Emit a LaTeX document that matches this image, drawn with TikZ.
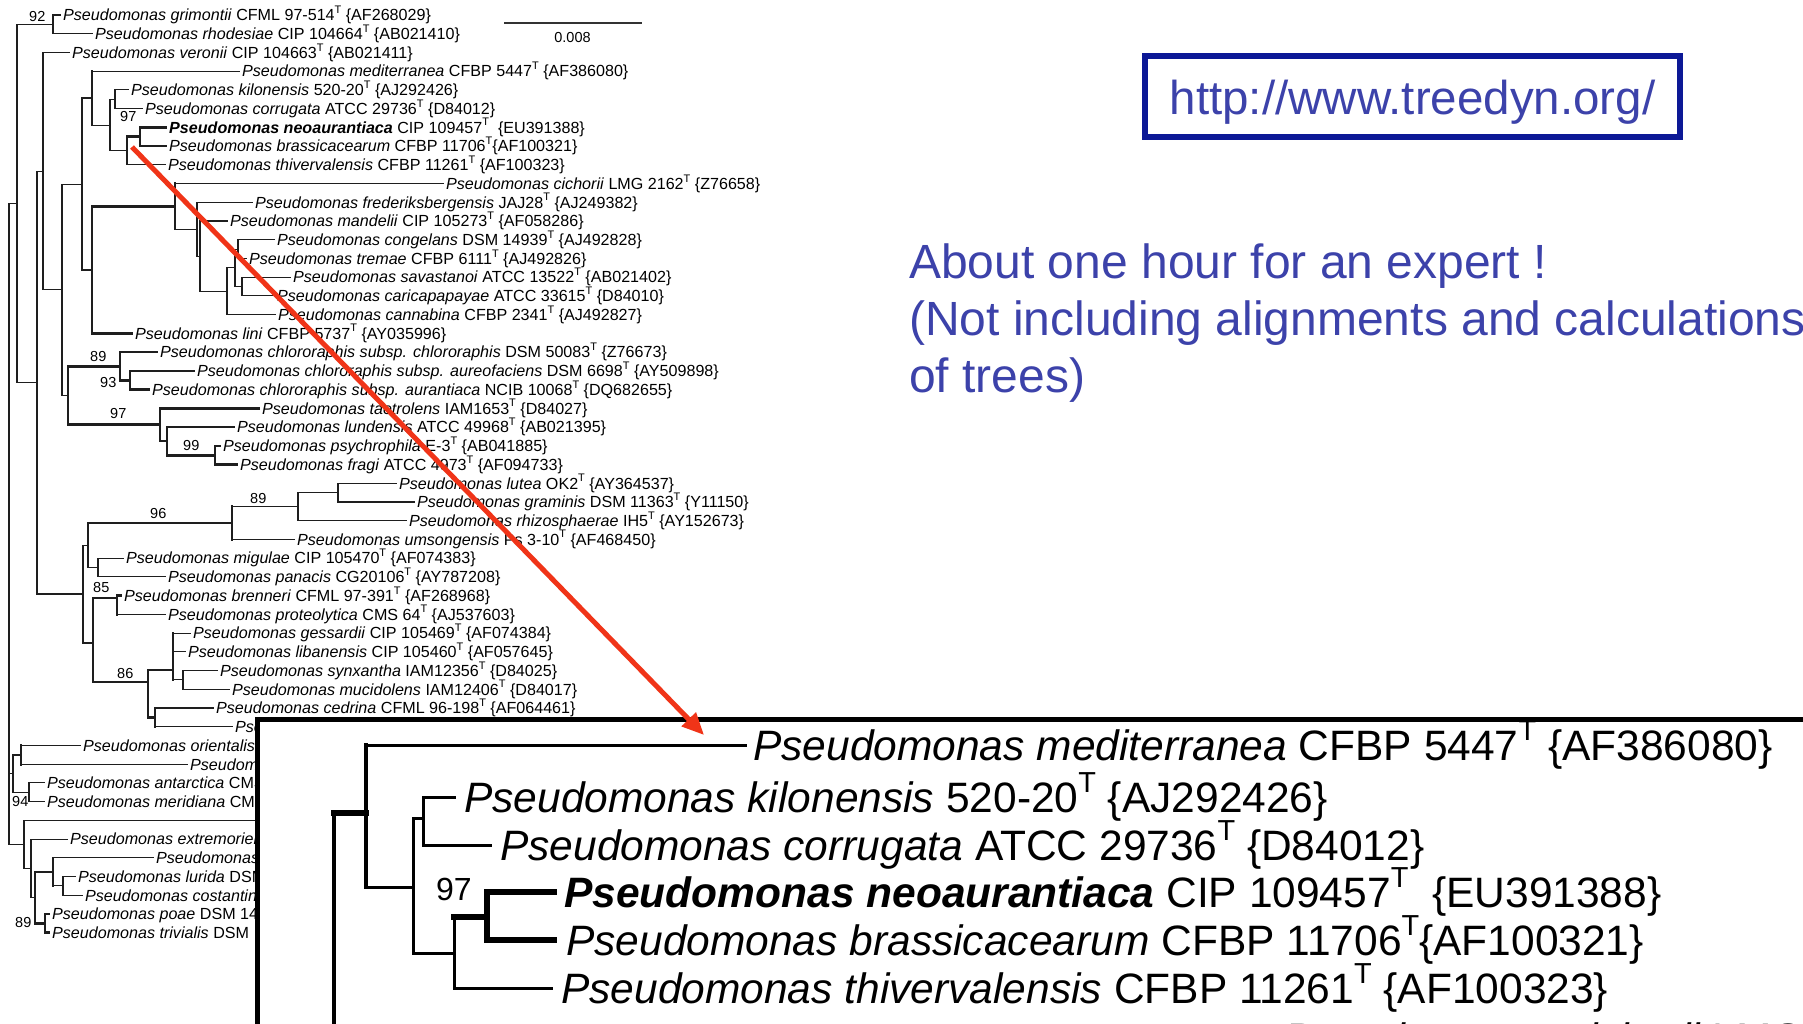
\documentclass[tikz,border=0pt]{standalone}
\usepackage{fontspec}
\setmainfont{Liberation Sans}
\usetikzlibrary{arrows.meta}
\definecolor{treeblue}{RGB}{60,66,170}
\definecolor{framenavy}{RGB}{12,24,150}
\definecolor{arrowred}{RGB}{240,52,24}
\definecolor{branchcol}{RGB}{30,30,30}
\newcommand\supT{\raisebox{0.45em}{\scalebox{0.68}{T}}}
\newcommand\Pse[1]{\textit{Pseudomonas #1}}
% leaf: [style]{name}{node x}{label x}{y}{text}
\newcommand\leaf[6][thinb]{\draw[#1] (#3,#5) -- ({#4-3},#5); \node[lab] (#2) at (#4,{#5+5.8}) {#6};}
% inner node: [style]{parent x}{x}{join y}{top y}{bottom y}
\newcommand\inode[6][thinb]{\draw[#1] (#2,#4) -- (#3,#4); \draw[#1] (#3,#5) -- (#3,#6);}
\begin{document}
\begin{tikzpicture}[x=1pt,y=-1pt,
  thinb/.style={line width=1.1pt, line cap=rect, draw=branchcol},
  thickb/.style={line width=2.6pt, line cap=rect, draw=branchcol},
  lab/.style={font=\fontsize{16.1}{18}\selectfont, inner sep=0pt, anchor=base west},
  boot/.style={font=\fontsize{14.5}{16}\selectfont, inner sep=0pt, anchor=base west},
  inlab/.style={font=\fontsize{42.5}{48}\selectfont, inner sep=0pt, anchor=base west},
  ithin/.style={line width=3pt, line cap=rect, draw=black},
  imed/.style={line width=4.5pt, line cap=rect, draw=black},
  ithick/.style={line width=6.5pt, line cap=rect, draw=black},
  body/.style={font=\fontsize{48}{57}\selectfont, text=treeblue, inner sep=0pt, anchor=base west}]
\useasboundingbox (0,0) rectangle (1803,1024);
\clip (0,0) rectangle (1803,1024);
\fill[white] (0,0) rectangle (1803,1024);

% ---------------- small tree: inner nodes
\inode{17}{53}{24.4}{15.0}{33.7}
\inode{110}{115}{99.3}{89.9}{108.7}
\inode[thickb]{127}{140}{136.8}{127.4}{146.1}
\inode{110}{127}{150.8}{136.8}{164.8}
\inode{92}{110}{125.1}{99.3}{150.8}
\inode[thickb]{82}{92}{98.2}{71.2}{125.1}
\inode{235}{238}{249.2}{239.8}{258.5}
\inode{235}{242}{286.6}{277.2}{295.9}
\inode{227}{235}{267.9}{249.2}{286.6}
\inode{200}{227}{291.3}{267.9}{314.7}
\inode{197}{200}{256.2}{221.0}{291.3}
\inode{175}{197}{229.2}{202.3}{256.2}
\inode[thickb]{92}{175}{206.4}{183.6}{229.2}
\inode[thickb]{82}{92}{269.9}{206.4}{333.4}
\inode{62}{82}{184.1}{98.2}{269.9}
\inode[thickb]{120}{130}{380.3}{370.9}{389.6}
\inode[thickb]{68}{120}{366.2}{352.1}{380.3}
\inode[thickb]{167}{215}{455.2}{445.8}{464.5}
\inode[thickb]{160}{167}{441.1}{427.0}{455.2}
\inode[thickb]{68}{160}{424.7}{408.3}{441.1}
\draw[thinb] (62,395.5) -- (68,395.5);
\draw[thickb] (68,366.2) -- (68,424.7);
\inode{43}{62}{289.8}{184.1}{395.5}
\inode{37}{43}{171.1}{52.5}{289.8}
\inode{298}{338}{492.6}{483.2}{502.0}
\inode{232}{298}{506.6}{492.6}{520.7}
\inode[thickb]{88}{232}{523.0}{506.6}{539.4}
\inode{88}{98}{567.5}{558.1}{576.9}
\inode{83}{88}{545.3}{523.0}{567.5}
\inode[thickb]{93}{117}{598}{595.6}{614.3}
\inode{173}{183}{679.9}{670.5}{689.2}
\inode[thickb]{148}{173}{670}{633.1}{679.9}
\inode[thickb]{148}{155}{717.3}{708.0}{726.7}
\inode[thickb]{93}{148}{682}{670}{717.3}
\inode[thickb]{83}{93}{643}{598}{682}
\inode{37}{83}{594}{545.3}{594}
\draw[thickb] (83,594) -- (83,643);
\inode{17}{37}{382.5}{171.1}{594}
\inode{9}{17}{203.5}{24.4}{382.5}
\inode[thickb]{13}{21}{754.8}{745.4}{764.2}
\inode{13}{29}{792.3}{782.9}{801.6}
\inode{9}{13}{773.5}{754.8}{792.3}
\inode{53}{63}{885.9}{876.5}{895.3}
\inode[thickb]{35}{53}{871.9}{857.8}{885.9}
\inode[thickb]{35}{45}{923.4}{914.0}{932.7}
\inode{31}{35}{897.6}{871.9}{923.4}
\inode{24}{31}{868.4}{839.1}{897.6}
\inode{9}{24}{844.3}{820.3}{868.4}
\draw[thinb] (9,203.5) -- (9,844.3);

% ---------------- small tree: leaves
\leaf{grim}{53}{63}{15.0}{\Pse{grimontii} CFML 97-514\supT\ \{AF268029\}}
\leaf{rhod}{53}{95}{33.7}{\Pse{rhodesiae} CIP 104664\supT\ \{AB021410\}}
\leaf{vero}{43}{72}{52.5}{\Pse{veronii} CIP 104663\supT\ \{AB021411\}}
\leaf{medi}{92}{242}{71.2}{\Pse{mediterranea} CFBP 5447\supT\ \{AF386080\}}
\leaf{kilo}{115}{131}{89.9}{\Pse{kilonensis} 520-20\supT\ \{AJ292426\}}
\leaf{corr}{115}{145}{108.7}{\Pse{corrugata} ATCC 29736\supT\ \{D84012\}}
\leaf[thickb]{neoa}{140}{169}{127.4}{\textbf{\Pse{neoaurantiaca}} CIP 109457\supT\ \ \{EU391388\}}
\leaf[thickb]{bras}{140}{169}{146.1}{\Pse{brassicacearum} CFBP 11706\supT\{AF100321\}}
\leaf{thiv}{127}{168}{164.8}{\Pse{thivervalensis} CFBP 11261\supT\ \{AF100323\}}
\leaf{cich}{175}{446}{183.6}{\Pse{cichorii} LMG 2162\supT\ \{Z76658\}}
\leaf{fred}{197}{255}{202.3}{\Pse{frederiksbergensis} JAJ28\supT\ \{AJ249382\}}
\leaf{mand}{200}{230}{221.0}{\Pse{mandelii} CIP 105273\supT\ \{AF058286\}}
\leaf{cong}{238}{277}{239.8}{\Pse{congelans} DSM 14939\supT\ \{AJ492828\}}
\leaf{trem}{238}{249}{258.5}{\Pse{tremae} CFBP 6111\supT\ \{AJ492826\}}
\leaf{sava}{242}{293}{277.2}{\Pse{savastanoi} ATCC 13522\supT\ \{AB021402\}}
\leaf{cari}{242}{277}{295.9}{\Pse{caricapapayae} ATCC 33615\supT\ \{D84010\}}
\leaf{cann}{227}{278}{314.7}{\Pse{cannabina} CFBP 2341\supT\ \{AJ492827\}}
\leaf[thickb]{lini}{92}{135}{333.4}{\Pse{lini} CFBP 5737\supT\ \{AY035996\}}
\leaf[thickb]{chlo}{120}{160}{352.1}{\Pse{chlororaphis subsp. chlororaphis} DSM 50083\supT\ \{Z76673\}}
\leaf[thickb]{aure}{130}{197}{370.9}{\Pse{chlororaphis subsp. aureofaciens} DSM 6698\supT\ \{AY509898\}}
\leaf[thickb]{aura}{130}{152}{389.6}{\Pse{chlororaphis subsp. aurantiaca} NCIB 10068\supT\ \{DQ682655\}}
\leaf[thickb]{taet}{160}{262}{408.3}{\Pse{taetrolens} IAM1653\supT\ \{D84027\}}
\leaf[thickb]{lund}{167}{237}{427.0}{\Pse{lundensis} ATCC 49968\supT\ \{AB021395\}}
\leaf[thickb]{psyc}{215}{223}{445.8}{\Pse{psychrophila} E-3\supT\ \{AB041885\}}
\leaf[thickb]{frag}{215}{240}{464.5}{\Pse{fragi} ATCC 4973\supT\ \{AF094733\}}
\leaf{lute}{338}{399}{483.2}{\Pse{lutea} OK2\supT\ \{AY364537\}}
\leaf{gram}{338}{417}{502.0}{\Pse{graminis} DSM 11363\supT\ \{Y11150\}}
\leaf{rhiz}{298}{409}{520.7}{\Pse{rhizosphaerae} IH5\supT\ \{AY152673\}}
\leaf{umso}{232}{297}{539.4}{\Pse{umsongensis} Ps 3-10\supT\ \{AF468450\}}
\leaf{migu}{98}{126}{558.1}{\Pse{migulae} CIP 105470\supT\ \{AF074383\}}
\leaf{pana}{98}{168}{576.9}{\Pse{panacis} CG20106\supT\ \{AY787208\}}
\leaf[thickb]{bren}{117}{124}{595.6}{\Pse{brenneri} CFML 97-391\supT\ \{AF268968\}}
\leaf{prot}{117}{168}{614.3}{\Pse{proteolytica} CMS 64\supT\ \{AJ537603\}}
\leaf{gess}{173}{193}{633.1}{\Pse{gessardii} CIP 105469\supT\ \{AF074384\}}
\leaf{liba}{173}{188}{651.8}{\Pse{libanensis} CIP 105460\supT\ \{AF057645\}}
\leaf{synx}{183}{220}{670.5}{\Pse{synxantha} IAM12356\supT\ \{D84025\}}
\leaf{muci}{183}{232}{689.2}{\Pse{mucidolens} IAM12406\supT\ \{D84017\}}
\leaf{cedr}{155}{216}{708.0}{\Pse{cedrina} CFML 96-198\supT\ \{AF064461\}}
\leaf{hida}{155}{235}{726.7}{\textit{Pseudomonas}}
\leaf{orie}{21}{83}{745.4}{\Pse{orientalis}}
\leaf{hidb}{21}{190}{764.2}{\textit{Pseudomonas}}
\leaf{anta}{29}{47}{782.9}{\Pse{antarctica} CMS}
\leaf{meri}{29}{47}{801.6}{\Pse{meridiana} CMS}
\draw[thinb] (24,820.3) -- (330,820.3);
\leaf{extr}{31}{70}{839.1}{\Pse{extremorientalis}}
\leaf{hidc}{53}{156}{857.8}{\textit{Pseudomonas}}
\leaf{luri}{63}{78}{876.5}{\Pse{lurida} DSM}
\leaf{cost}{63}{85}{895.3}{\Pse{costantinii}}
\leaf[thickb]{poae}{45}{52}{914.0}{\Pse{poae} DSM 14}
\leaf[thickb]{triv}{45}{52}{932.7}{\Pse{trivialis} DSM}

% bootstrap values
\node[boot] (b92) at (29,22) {92};
\node[boot] (b97a) at (120,122) {97};
\node[boot] (b89a) at (90,361) {89};
\node[boot] (b93) at (100,387) {93};
\node[boot] (b97b) at (110,418) {97};
\node[boot] (b99) at (183,450) {99};
\node[boot] (b89b) at (250,503) {89};
\node[boot] (b96) at (150,518) {96};
\node[boot] (b85) at (93,592) {85};
\node[boot] (b86) at (117,678) {86};
\node[boot] (b94) at (12,806) {94};
\node[boot] (b89c) at (15,927) {89};

% scale bar
\coordinate (sbL) at (504,23);
\coordinate (sbR) at (642,23);
\draw[line width=1.2pt, black!80] (sbL) -- (sbR);
\node[boot, anchor=base] (sbl) at (572.5,43) {0.008};

% ---------------- right-hand texts
\draw[framenavy, line width=6pt] (1145,56) rectangle (1680,137);
\node[font=\fontsize{47.5}{56}\selectfont, text=treeblue, inner sep=0pt, anchor=base] (url) at (1412.5,115) {http://www.treedyn.org/};
\node[body] (l1) at (909,278) {About one hour for an expert !};
\node[body] (l2) at (909,335) {(Not including alignments and calculations};
\node[body] (l3) at (909,392) {of trees)};

% ---------------- inset (magnified)
\draw[line width=4.5pt, fill=white] (257.5,719.5) rectangle (1840,1060);
\draw[ithick] (334,813) -- (366,813);
\draw[imed] (334,813) -- (334,1040);
\draw[imed] (366,745) -- (366,887);
\draw[ithin] (366,745) -- (745,745);
\draw[ithin] (366,887) -- (413,887);
\draw[ithin] (413,818) -- (413,953);
\draw[ithin] (413,818) -- (423,818);
\draw[ithin] (423,797) -- (423,845);
\draw[ithin] (423,797) -- (454,797);
\draw[ithin] (423,845) -- (490,845);
\draw[ithin] (413,953) -- (454,953);
\draw[ithin] (454,917) -- (454,988);
\draw[ithin] (454,988) -- (551,988);
\draw[ithick] (454,917) -- (487,917);
\draw[ithick] (487,892) -- (487,940);
\draw[ithick] (487,892) -- (554,892);
\draw[ithick] (487,940) -- (554,940);
\node[inlab] (imedi) at (753,760) {\Pse{mediterranea} CFBP 5447\supT\ \{AF386080\}};
\node[inlab] (ikilo) at (464,812) {\Pse{kilonensis} 520-20\supT\ \{AJ292426\}};
\node[inlab] (icorr) at (500,860) {\Pse{corrugata} ATCC 29736\supT\ \{D84012\}};
\node[inlab] (ineoa) at (564,907) {\textbf{\Pse{neoaurantiaca}} CIP 109457\supT\ \ \{EU391388\}};
\node[inlab] (ibras) at (566,955) {\Pse{brassicacearum} CFBP 11706\supT\{AF100321\}};
\node[inlab] (ithiv) at (561,1003) {\Pse{thivervalensis} CFBP 11261\supT\ \{AF100323\}};
\node[inlab] (icich) at (1284,1053) {\Pse{cichorii} LMG 2162\supT\ \{Z76658\}};
\node[font=\fontsize{32}{36}\selectfont, inner sep=0pt, anchor=base west] (ib97) at (436,900) {97};

% ---------------- red arrow
\coordinate (arrS) at (132,147);
\coordinate (arrE) at (704,735);
\draw[arrowred, line width=5pt, -{Triangle[length=22pt,width=19pt]}] (arrS) -- (arrE);
\end{tikzpicture}
\end{document}
